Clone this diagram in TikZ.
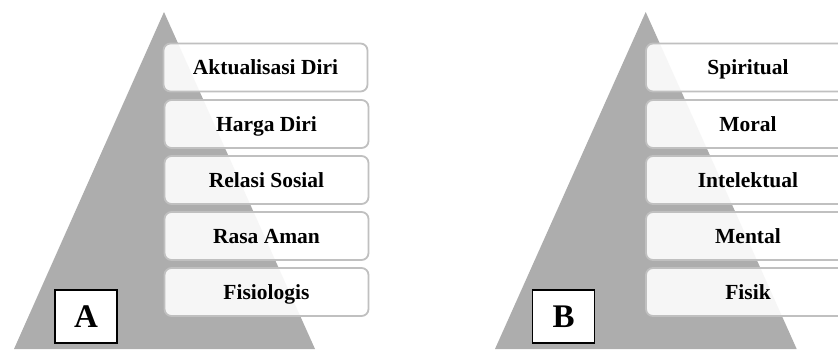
\documentclass[tikz,border=0pt]{standalone}
\usepackage{fontspec}
\setmainfont{Liberation Serif}
\definecolor{tri}{RGB}{173,173,173}
\definecolor{edge}{RGB}{192,192,192}
\tikzset{
  level/.style={rectangle, rounded corners=7pt, draw=edge, line width=1.8pt,
    fill=white, fill opacity=0.9, text opacity=1,
    minimum width=204pt, minimum height=48pt, inner sep=0pt,
    text height=14pt, text depth=0pt,
    font=\fontsize{21.5}{24}\selectfont\bfseries},
  tag/.style={rectangle, draw=black, line width=1.3pt, fill=white,
    minimum width=62pt, minimum height=53pt, inner sep=0pt,
    text height=22pt, text depth=0pt,
    font=\fontsize{33}{36}\selectfont\bfseries},
  pyr/.style={fill=tri, draw=none}
}
\begin{document}
\begin{tikzpicture}[x=1pt,y=-1pt]
\useasboundingbox (0,0) rectangle (838,349);
\clip (0,0) rectangle (838,349);
\fill[white] (0,0) rectangle (838,349);
% triangles
\path[pyr] (164,12) -- (14,349) -- (315,349) -- cycle;
\path[pyr] (645.7,12) -- (495,349) -- (796.7,349) -- cycle;
% panel A
\node[level] (a1) at (265.5,67.5) {Aktualisasi Diri};
\node[level] (a2) at (266.5,124) {Harga Diri};
\node[level] (a3) at (266.5,180) {Relasi Sosial};
\node[level] (a4) at (266.5,236) {Rasa Aman};
\node[level] (a5) at (266.5,292) {Fisiologis};
\node[tag] (ta) at (86,316.5) {A};
% panel B
\node[level] (b1) at (748,67.5) {Spiritual};
\node[level] (b2) at (748,124) {Moral};
\node[level] (b3) at (748,180) {Intelektual};
\node[level] (b4) at (748,236) {Mental};
\node[level] (b5) at (748,292) {Fisik};
\node[tag] (tb) at (563.5,316.5) {B};
\end{tikzpicture}
\end{document}
